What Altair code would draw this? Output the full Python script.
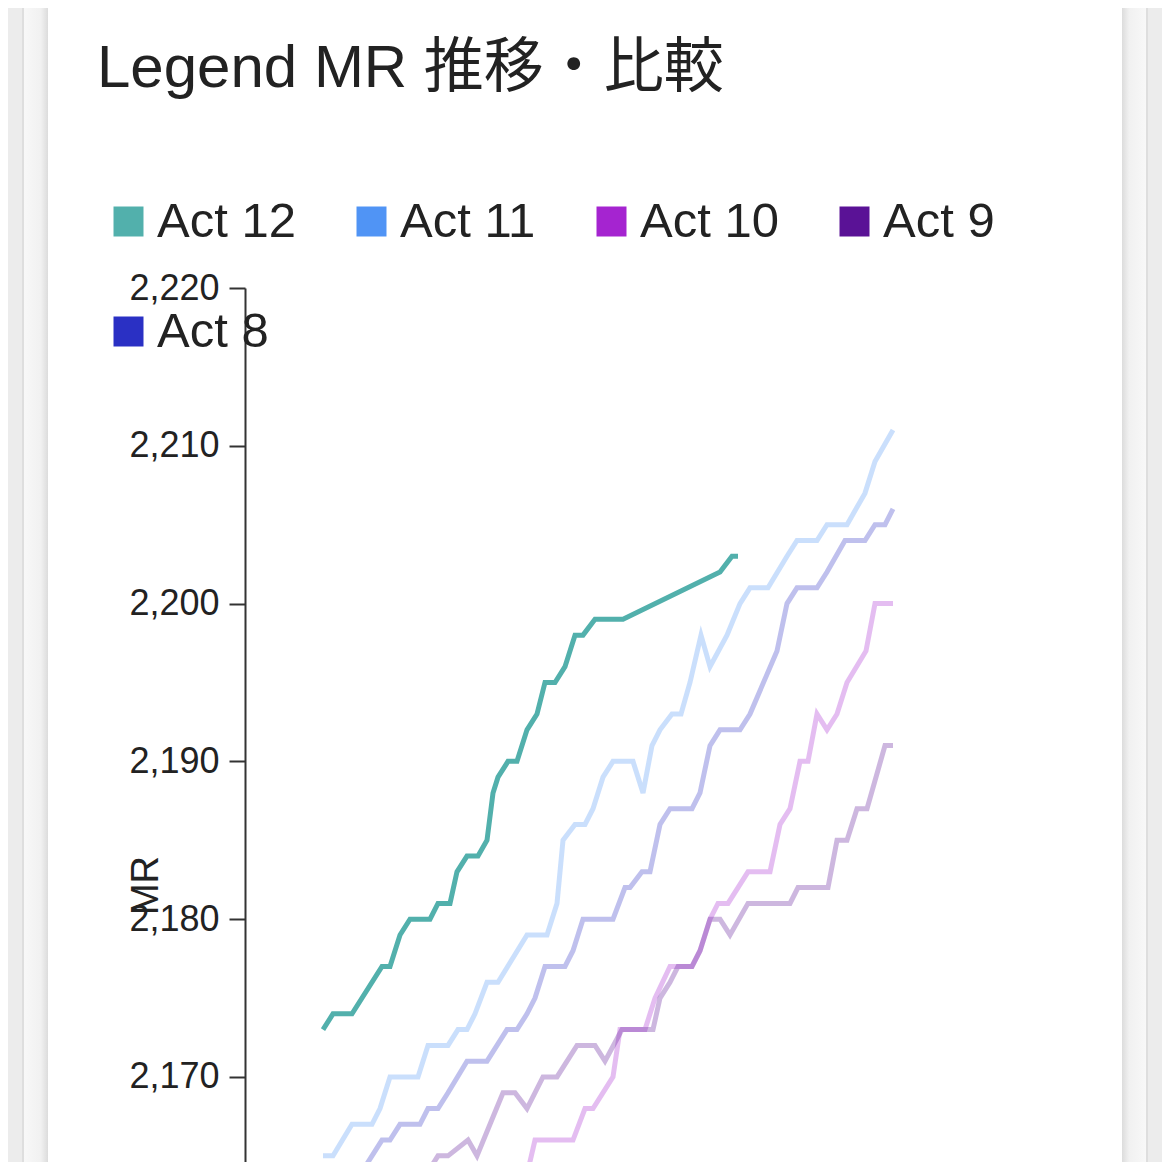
import altair as alt
import pandas as pd

FONT = "Liberation Sans, Arial, Noto Sans CJK JP, sans-serif"

acts = ["Act 12", "Act 11", "Act 10", "Act 9", "Act 8"]
colors = ["#52b0ac", "#5094f5", "#a524d0", "#5a1296", "#2a30c4"]
y_ticks = [2170, 2180, 2190, 2200, 2210, 2220]

act12_t = [7.8, 8.8, 10.7, 13.7, 14.5, 15.5, 16.5, 18.5, 19.3, 20.5, 21.2, 22.2, 23.3, 24.2, 24.8,
           25.3, 26.3, 27.2, 28.2, 29.2, 30.0, 31.0, 32.0, 33.0, 33.8, 35.0, 37.8, 47.5, 48.7, 49.3]
act12_mr = [2173, 2174, 2174, 2177, 2177, 2179, 2180, 2180, 2181, 2181, 2183, 2184, 2184, 2185, 2188,
            2189, 2190, 2190, 2192, 2193, 2195, 2195, 2196, 2198, 2198, 2199, 2199, 2202, 2203, 2203]

act11_t = [7.8, 8.8, 10.7, 12.7, 13.5, 14.5, 17.3, 18.3, 20.3, 21.3, 22.2, 23.0, 24.2, 25.3, 28.2,
           30.2, 31.2, 31.8, 33.0, 34.0, 34.8, 35.8, 36.8, 38.8, 39.8, 40.7, 41.5, 42.7, 43.6, 44.5,
           45.6, 46.5, 48.2, 49.5, 50.5, 52.3, 54.2, 55.2, 57.2, 58.2, 60.2, 62.0, 63.0, 64.8]
act11_mr = [2165, 2165, 2167, 2167, 2168, 2170, 2170, 2172, 2172, 2173, 2173, 2174, 2176, 2176, 2179,
            2179, 2181, 2185, 2186, 2186, 2187, 2189, 2190, 2190, 2188, 2191, 2192, 2193, 2193, 2195,
            2198, 2196, 2198, 2200, 2201, 2201, 2203, 2204, 2204, 2205, 2205, 2207, 2209, 2211]

act10_t = [27.9, 29.0, 32.8, 34.0, 34.8, 36.8, 37.5, 40.0, 41.0, 42.5, 44.7, 45.5, 46.5, 47.3, 48.3,
           50.3, 52.5, 53.5, 54.5, 55.5, 56.3, 57.2, 58.2, 59.2, 60.2, 62.1, 63.0, 64.8]
act10_mr = [2163, 2166, 2166, 2168, 2168, 2170, 2173, 2173, 2175, 2177, 2177, 2178, 2180, 2181, 2181,
            2183, 2183, 2186, 2187, 2190, 2190, 2193, 2192, 2193, 2195, 2197, 2200, 2200]

act9_t = [17.3, 19.3, 20.3, 22.3, 23.2, 24.5, 25.8, 27.0, 28.2, 29.8, 31.2, 33.2, 35.0, 36.0, 37.7,
          40.8, 41.5, 42.5, 43.3, 44.7, 45.5, 46.5, 47.5, 48.5, 50.3, 54.5, 55.3, 58.3, 59.2, 60.2,
          61.2, 62.2, 64.0, 64.8]
act9_mr = [2163, 2165, 2165, 2166, 2165, 2167, 2169, 2169, 2168, 2170, 2170, 2172, 2172, 2171, 2173,
           2173, 2175, 2176, 2177, 2177, 2178, 2180, 2180, 2179, 2181, 2181, 2182, 2182, 2185, 2185,
           2187, 2187, 2191, 2191]

act8_t = [10.7, 13.7, 14.5, 15.5, 17.5, 18.3, 19.3, 20.3, 22.2, 24.2, 25.2, 26.2, 27.2, 28.2, 29.0,
          30.0, 32.0, 32.8, 33.8, 36.8, 38.0, 38.5, 39.7, 40.5, 41.5, 42.5, 44.7, 45.5, 46.5, 47.5,
          49.5, 50.5, 53.2, 54.2, 55.2, 57.2, 58.2, 60.0, 62.0, 63.0, 64.0, 64.8]
act8_mr = [2163, 2166, 2166, 2167, 2167, 2168, 2168, 2169, 2171, 2171, 2172, 2173, 2173, 2174, 2175,
           2177, 2177, 2178, 2180, 2180, 2182, 2182, 2183, 2183, 2186, 2187, 2187, 2188, 2191, 2192,
           2192, 2193, 2197, 2200, 2201, 2201, 2202, 2204, 2204, 2205, 2205, 2206]

series = {
    "Act 12": (act12_t, act12_mr),
    "Act 11": (act11_t, act11_mr),
    "Act 10": (act10_t, act10_mr),
    "Act 9": (act9_t, act9_mr),
    "Act 8": (act8_t, act8_mr),
}
rows = []
for name, (ts, ms) in series.items():
    for i, (t, m) in enumerate(zip(ts, ms)):
        rows.append({"act": name, "t": t, "mr": m, "i": i})
df = pd.DataFrame(rows)

lines = alt.Chart(df).mark_line(strokeWidth=5, clip=True).encode(
    x=alt.X("t:Q", scale=alt.Scale(domain=[0, 83], nice=False, zero=False), axis=None),
    y=alt.Y(
        "mr:Q",
        scale=alt.Scale(domain=[2164.61, 2220], nice=False, zero=False),
        axis=alt.Axis(
            values=y_ticks, format=",.0f", grid=False,
            labelFont=FONT, labelFontSize=36, labelColor="#222222", labelPadding=10,
            tickSize=16, tickWidth=2, tickColor="#333333",
            domainColor="#333333", domainWidth=2,
            title="MR", titleFont=FONT, titleFontSize=38, titleFontWeight="normal",
            titleColor="#222222", titleAngle=270, titleAlign="center", titleBaseline="middle",
            titleX=-99, titleY=597, zindex=1,
        ),
    ),
    color=alt.Color(
        "act:N",
        scale=alt.Scale(domain=acts, range=colors),
        legend=alt.Legend(
            orient="none", legendX=-141, legendY=-91, direction="horizontal", columns=4,
            columnPadding=38, rowPadding=35, title=None,
            symbolType="square", symbolSize=225, symbolStrokeWidth=15, symbolOpacity=1,
            labelFont=FONT, labelFontSize=49, labelColor="#222222", labelOffset=4,
            labelLimit=400, zindex=1,
        ),
    ),
    opacity=alt.condition(alt.datum.act == "Act 12", alt.value(1.0), alt.value(0.3)),
    order="i:Q",
)

blank = alt.Data(values=[{}])
def strip(x0, x1, fill):
    return alt.Chart(blank).mark_rect(color=fill).encode(
        x=alt.value(x0), x2=alt.value(x1), y=alt.value(-280), y2=alt.value(874)
    )

grad_l = alt.LinearGradient(gradient="linear", x1=0, x2=1, y1=0, y2=0,
                            stops=[alt.GradientStop(offset=0, color="#f8f8f8"),
                                   alt.GradientStop(offset=0.7, color="#f1f1f1"),
                                   alt.GradientStop(offset=1, color="#dcdcdc")])
grad_r = alt.LinearGradient(gradient="linear", x1=0, x2=1, y1=0, y2=0,
                            stops=[alt.GradientStop(offset=0, color="#dcdcdc"),
                                   alt.GradientStop(offset=0.3, color="#f1f1f1"),
                                   alt.GradientStop(offset=1, color="#f8f8f8")])

chart = alt.layer(
    strip(-245, -223, "#ececec"),
    strip(-223, -221, "#dedede"),
    strip(-221, -197, grad_l),
    strip(877, 901, grad_r),
    strip(901, 903, "#dedede"),
    strip(903, 917, "#ececec"),
    lines,
).properties(
    width=830,
    height=874,
    autosize=alt.AutoSizeParams(type="none"),
    padding={"left": 237, "top": 280, "right": 87, "bottom": 0},
    background="white",
    title=alt.TitleParams(
        text="Legend MR 推移・比較", anchor="start", frame="group", orient="top",
        font=FONT, fontSize=60, fontWeight="normal", color="#222222",
        baseline="alphabetic", dx=-148, dy=139, offset=0, zindex=1,
    ),
).configure_view(stroke=None)

chart.save("out.html", embed_options={"renderer": "svg", "actions": False})
